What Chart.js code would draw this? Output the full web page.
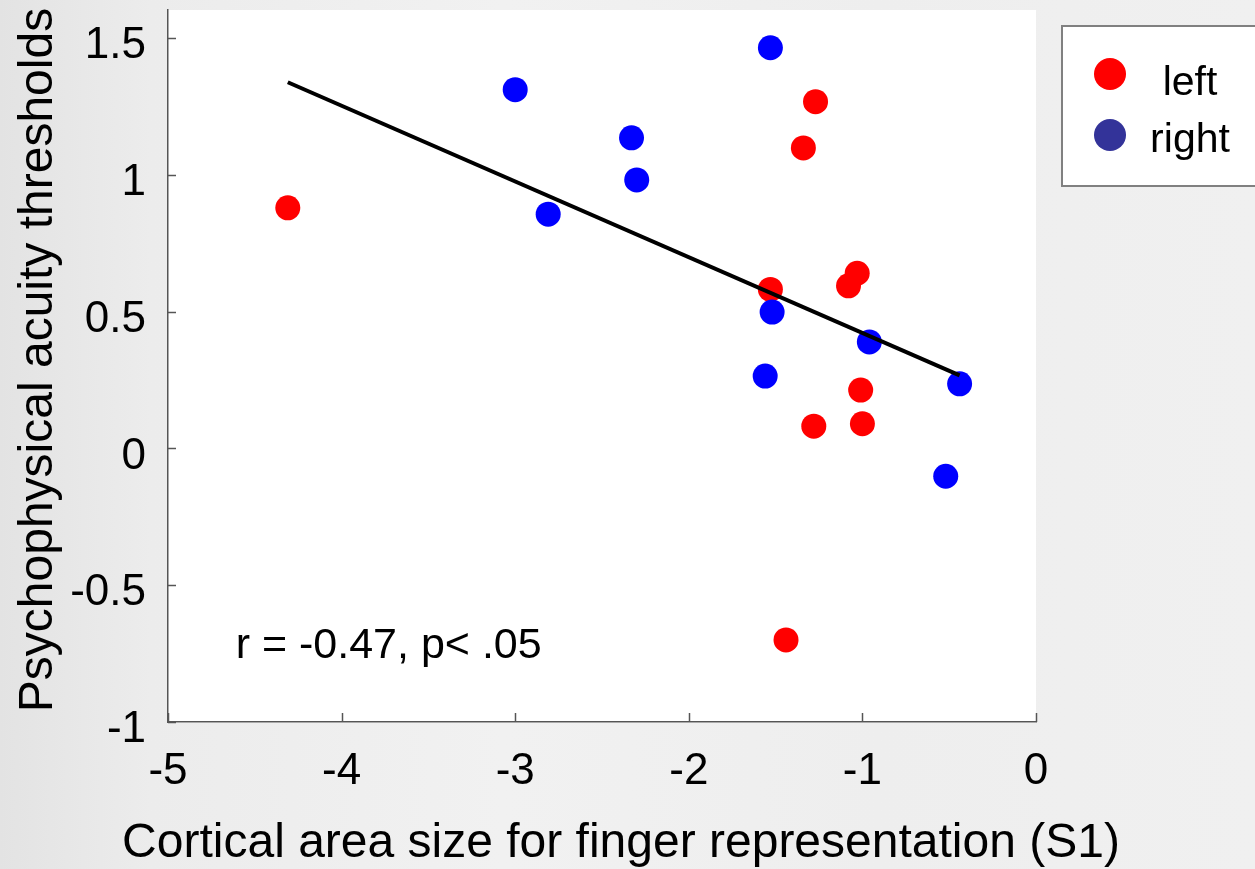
<!DOCTYPE html>
<html>
<head>
<meta charset="utf-8">
<script src="https://cdn.jsdelivr.net/npm/chart.js@4/dist/chart.umd.min.js"></script>
<style>
  html, body { margin: 0; padding: 0; }
  body {
    width: 1255px; height: 869px; overflow: hidden;
    background: linear-gradient(to right, #e3e3e3 0%, #ececec 12%, #f1f1f1 40%, #eeeeee 70%, #f0f0f0 100%);
  }
  canvas { display: block; }
</style>
</head>
<body>
<canvas id="myChart" width="1255" height="869"></canvas>
<script>
// data
const leftX  = [-4.31, -1.27, -1.34, -1.53, -1.03, -1.08, -1.01, -1.28, -1.00, -1.44];
const leftY  = [0.879, 1.267, 1.098, 0.581, 0.640, 0.594, 0.213, 0.081, 0.090, -0.700];
const rightX = [-1.53, -3.00, -2.33, -2.30, -2.81, -1.52, -0.96, -1.56, -0.44, -0.52];
const rightY = [1.464, 1.311, 1.135, 0.981, 0.856, 0.498, 0.389, 0.264, 0.236, -0.102];
const fitX = [-4.31, -0.44];
const fitY = [1.338, 0.267];

const seriesNames = ['left', 'right'];
const xTicks = [-5, -4, -3, -2, -1, 0];
const yTicks = [-1, -0.5, 0, 0.5, 1, 1.5];
const xTitle = 'Cortical area size for finger representation (S1)';
const yTitle = 'Psychophysical acuity thresholds';
const statText = 'r = -0.47, p< .05';
const statAt = [-4.61, -0.767];

const FONT = "'Liberation Sans', Arial, sans-serif";
const legendColors = ['#ff0000', '#333399'];

function pts(xs, ys) {
    return xs.map(function (x, i) { return { x: x, y: ys[i] }; });
}

// white plot area behind everything
const plotBg = {
    id: 'plotBg',
    beforeDraw: function (chart) {
        const a = chart.chartArea, c = chart.ctx;
        c.save();
        c.fillStyle = '#ffffff';
        c.fillRect(a.left, a.top, a.right - a.left, a.bottom - a.top + 1);
        c.restore();
    }
};

// inward ticks, axis titles, stat text and the boxed legend
const extras = {
    id: 'extras',
    afterDraw: function (chart) {
        const c = chart.ctx, a = chart.chartArea;
        const xs = chart.scales.x, ys = chart.scales.y;
        c.save();
        c.strokeStyle = '#555555';
        c.lineWidth = 1.5;
        xTicks.forEach(function (v) {
            const px = Math.round(xs.getPixelForValue(v)) + 0.5;
            c.beginPath(); c.moveTo(px, a.bottom); c.lineTo(px, a.bottom - 9); c.stroke();
        });
        yTicks.forEach(function (v) {
            const py = Math.round(ys.getPixelForValue(v)) + 0.5;
            c.beginPath(); c.moveTo(a.left, py); c.lineTo(a.left + 8, py); c.stroke();
        });

        // axis titles (wider than the axes, so drawn here)
        c.fillStyle = '#000000';
        c.font = '48px ' + FONT;
        c.textAlign = 'center';
        c.textBaseline = 'alphabetic';
        c.fillText(xTitle, 621, 857);
        c.save();
        c.translate(52, 360);
        c.rotate(-Math.PI / 2);
        c.fillText(yTitle, 0, 0);
        c.restore();

        c.font = '43px ' + FONT;
        c.textAlign = 'left';
        c.fillText(statText, xs.getPixelForValue(statAt[0]), ys.getPixelForValue(statAt[1]));

        // legend
        c.fillStyle = '#ffffff';
        c.fillRect(1062, 26, 200, 160);
        c.strokeStyle = '#808080';
        c.lineWidth = 2;
        c.strokeRect(1062, 26, 200, 160);
        const rows = [74, 135];
        const baselines = [95, 152];
        c.font = '41px ' + FONT;
        c.textAlign = 'center';
        c.textBaseline = 'alphabetic';
        seriesNames.forEach(function (name, i) {
            c.fillStyle = legendColors[i];
            c.beginPath(); c.arc(1110, rows[i], 16, 0, Math.PI * 2); c.fill();
            c.fillStyle = '#000000';
            c.fillText(name, 1190, baselines[i]);
        });
        c.restore();
    }
};

new Chart('myChart', {
    type: 'scatter',
    data: {
        datasets: [{
            type: 'line',
            label: 'fit',
            data: pts(fitX, fitY),
            borderColor: '#000000',
            borderWidth: 4,
            pointRadius: 0,
            fill: false,
            order: 0
        }, {
            label: seriesNames[1],
            data: pts(rightX, rightY),
            backgroundColor: '#0000ff',
            borderWidth: 0,
            pointRadius: 12.5,
            order: 1
        }, {
            label: seriesNames[0],
            data: pts(leftX, leftY),
            backgroundColor: '#ff0000',
            borderWidth: 0,
            pointRadius: 12.5,
            order: 2
        }]
    },
    options: {
        responsive: false,
        animation: false,
        devicePixelRatio: 1,
        layout: { autoPadding: false, padding: { top: 10, right: 219, left: 0, bottom: 0 } },
        plugins: {
            legend: { display: false },
            tooltip: { enabled: false }
        },
        scales: {
            x: {
                type: 'linear',
                min: -5, max: 0,
                afterBuildTicks: function (s) { s.ticks = xTicks.map(function (v) { return { value: v }; }); },
                afterFit: function (s) { s.height = 147; s.paddingLeft = 0; s.paddingRight = 0; },
                grid: { display: true, drawOnChartArea: false, drawTicks: false },
                border: { display: true, color: '#555555', width: 1.5 },
                ticks: {
                    color: '#000000', padding: 23, maxRotation: 0, autoSkip: false,
                    font: { family: FONT, size: 44 },
                    callback: function (v) { return String(v); }
                },
                title: { display: false }
            },
            y: {
                type: 'linear',
                min: -1, max: 1.602,
                afterBuildTicks: function (s) { s.ticks = yTicks.map(function (v) { return { value: v }; }); },
                afterFit: function (s) { s.width = 168; s.paddingTop = 0; s.paddingBottom = 0; },
                grid: { display: true, drawOnChartArea: false, drawTicks: false },
                border: { display: true, color: '#555555', width: 1.5 },
                ticks: {
                    color: '#000000', padding: 22, labelOffset: 8, autoSkip: false,
                    font: { family: FONT, size: 44 },
                    callback: function (v) { return String(v); }
                },
                title: { display: false }
            }
        }
    },
    plugins: [plotBg, extras]
});
</script>
</body>
</html>
